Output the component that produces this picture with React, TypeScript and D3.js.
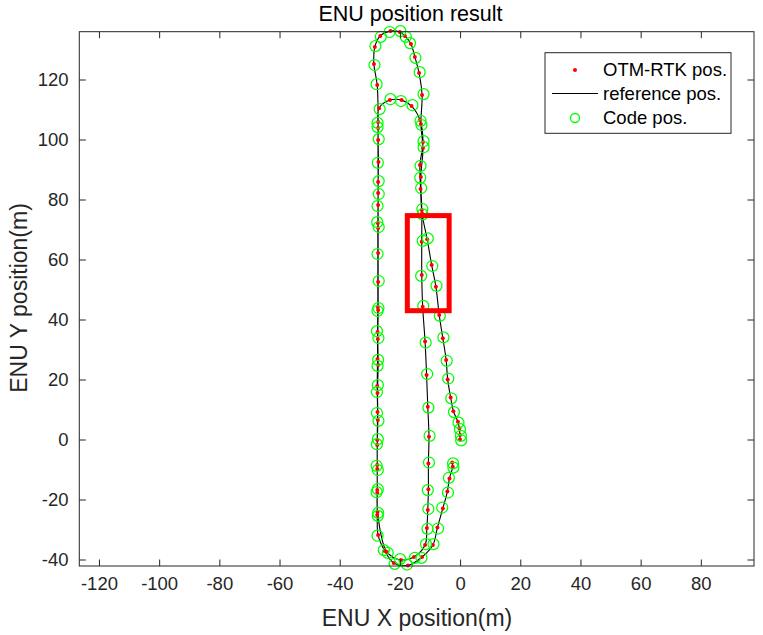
import React from 'react';
import * as d3 from 'd3';

const xTicks = [-120, -100, -80, -60, -40, -20, 0, 20, 40, 60, 80];
const yTicks = [-40, -20, 0, 20, 40, 60, 80, 100, 120];
const xDomain = [-126.7, 97.5];
const yDomain = [-42, 136.1];

const rtkX = [-2.8,-2.6,-3.7,-4.4,-5.9,-7.7,-9.2,-12.8,-17.5,-22.2,-25.2,-27.4,
-27.7,-27.7,-27.7,-27.7,-27.5,-27.6,-27.4,-27.5,-27.4,-27.4,-27.4,-27.4,-27.4,-27.4,-27.3,-27.4,-27.4,-27.7,-28.8,
-28.5,-26.7,-23.3,-20.2,-18.5,-16.5,-15.2,-13.8,
-12.8,-13.2,-12.5,-13.2,-12.9,
-12.9,-12.9,-12.6,-11.8,-11.3,-10.9,-10.5,-10.7,-10.7,-10.9,-11.2,-11.8,
-15.5,-19.8,-24.5,
-27.6,-27.7,-27.7,-27.7,-27.6,-27.7,-27.6,-27.6,-27.5,-27.5,-27.4,-27.4,-27.1,
-23.5,-19.6,-16.3,-13.5,
-12.5,-13.5,-13.3,-12.8,
-11.1,-9.6,-8.2,-7.1,-5.9,-4.8,-4.3,-3.3,-2.4,-0.9,-0.4,-0.2,-0.2];

const rtkY = [-7.5,-8.9,-12.8,-17.2,-22.8,-29.2,-35.0,-39.0,-41.8,-41.0,-37.0,-31.7,
-25.0,-17.7,-9.7,-1.7,6.7,15.7,25.0,33.7,43.3,52.7,62.3,70.7,78.3,86.0,92.7,100.0,106.0,118.3,125.3,
131.0,134.7,136.3,136.0,134.7,132.0,127.7,122.3,
115.0,105.3,97.3,87.7,76.7,
66.1,55.0,44.4,32.8,21.7,11.1,1.1,-7.8,-16.4,-23.3,-29.3,-35.0,
-39.0,-40.0,-37.3,
-24.0,-16.7,-8.3,0.0,9.3,18.0,27.0,36.0,44.3,72.3,82.3,104.0,110.6,
113.3,113.3,111.3,106.7,
99.3,91.7,83.7,75.5,
66.9,58.3,51.1,41.7,33.9,26.7,20.2,14.2,9.6,6.1,3.9,1.7,0.2];

const codeX = [-2.5,-2.4,-3.9,-4.2,-6.1,-7.5,-9.0,-13.0,-17.8,-21.9,-25.5,-27.6,
-27.5,-27.9,-27.5,-27.8,-27.3,-27.8,-27.6,-27.3,-27.6,-27.2,-27.6,-27.2,-27.6,-27.2,-27.5,-27.2,-27.6,-27.9,-28.6,
-28.3,-26.5,-23.6,-20.0,-18.2,-16.8,-15.0,-13.6,
-12.3,-13.0,-12.3,-13.4,-12.7,
-12.6,-13.1,-12.4,-11.6,-11.1,-10.7,-10.3,-10.5,-10.9,-10.7,-11.0,-11.5,
-15.2,-20.1,-24.2,
-27.4,-27.5,-27.9,-27.5,-27.8,-27.5,-27.4,-27.8,-27.3,-27.7,-27.2,-27.6,-26.9,
-23.3,-19.8,-16.0,-13.3,
-12.3,-13.3,-13.1,-12.6,
-10.9,-9.4,-8.0,-6.9,-5.7,-4.6,-4.1,-3.1,-2.2,-0.7,-0.2,0.1,0.2];

const codeY = [-7.8,-9.2,-12.6,-17.5,-22.5,-29.5,-34.7,-39.3,-41.5,-41.3,-36.7,-31.9,
-25.3,-17.4,-10.0,-1.4,6.4,16.0,24.7,34.0,43.0,53.0,62.0,71.0,78.0,86.3,92.4,100.3,105.7,118.6,125.0,
131.3,134.4,136.0,136.3,134.4,132.3,127.4,122.6,
115.3,105.0,97.6,87.4,77.0,
66.4,54.7,44.7,32.5,22.0,10.8,1.4,-7.5,-16.7,-23.0,-29.6,-34.7,
-39.3,-39.7,-37.6,
-24.3,-16.4,-8.6,0.3,9.0,18.3,26.7,36.3,44.0,72.6,82.0,104.3,110.3,
113.6,113.0,111.6,106.4,
99.6,91.4,84.0,75.2,
67.2,58.0,51.4,41.4,34.2,26.4,20.5,13.9,9.3,5.8,3.6,1.4,-0.1];

const legendLabels = ['OTM-RTK pos.', 'reference pos.', 'Code pos.'];
const highlightX = [-17.7, -3.8];
const highlightY = [43.1, 74.8];

const W = 763, H = 635;
const M = { left: 79.3, right: 754, top: 31.7, bottom: 566 };
const FONT = '"Liberation Sans", Arial, Helvetica, sans-serif';
const AX = '#262626';

export default function App() {
  const x = d3.scaleLinear().domain(xDomain).range([M.left, M.right]);
  const y = d3.scaleLinear().domain(yDomain).range([M.bottom, M.top]);
  const pts = rtkX.map((v, i) => [v, rtkY[i]] as [number, number]);
  const line = d3.line<[number, number]>().x(d => x(d[0])).y(d => y(d[1])).curve(d3.curveCatmullRom);
  const tl = 6.5;
  return (
    <svg width={W} height={H} style={{ position: 'absolute', left: 0, top: 0, background: '#fff' }} fontFamily={FONT}>
      <rect x={0} y={0} width={W} height={H} fill="#fff" />
      <path d={line(pts) || ''} fill="none" stroke="#000" strokeWidth={1.1} />
      {pts.map((p, i) => (
        <circle key={'r' + i} cx={x(p[0])} cy={y(p[1])} r={2} fill="#ff0000" />
      ))}
      {codeX.map((v, i) => (
        <circle key={'c' + i} cx={x(v)} cy={y(codeY[i])} r={5.5} fill="none" stroke="#00ff00" strokeWidth={1.25} />
      ))}
      <rect x={M.left} y={M.top} width={M.right - M.left} height={M.bottom - M.top} fill="none" stroke={AX} strokeWidth={1} />
      {xTicks.map(t => (
        <g key={'xt' + t}>
          <line x1={x(t)} x2={x(t)} y1={M.bottom} y2={M.bottom - tl} stroke={AX} />
          <line x1={x(t)} x2={x(t)} y1={M.top} y2={M.top + tl} stroke={AX} />
          <text x={x(t)} y={589.5} textAnchor="middle" fontSize={18.5} fill={AX}>{t}</text>
        </g>
      ))}
      {yTicks.map(t => (
        <g key={'yt' + t}>
          <line x1={M.left} x2={M.left + tl} y1={y(t)} y2={y(t)} stroke={AX} />
          <line x1={M.right} x2={M.right - tl} y1={y(t)} y2={y(t)} stroke={AX} />
          <text x={68.5} y={y(t)} dy="0.35em" textAnchor="end" fontSize={18.5} fill={AX}>{t}</text>
        </g>
      ))}
      <text x={410.5} y={21} textAnchor="middle" fontSize={21.5} fill="#000">ENU position result</text>
      <text x={417} y={626} textAnchor="middle" fontSize={23} fill={AX}>ENU X position(m)</text>
      <text transform={`translate(27,298) rotate(-90)`} textAnchor="middle" fontSize={23} fill={AX}>ENU Y position(m)</text>
      <rect x={545} y={52.7} width={186} height={80.6} fill="#fff" stroke={AX} strokeWidth={1} />
      <circle cx={575} cy={70} r={2} fill="#ff0000" />
      <line x1={552} x2={598} y1={93.5} y2={93.5} stroke="#000" strokeWidth={1.1} />
      <circle cx={575} cy={118} r={4.5} fill="none" stroke="#00ff00" strokeWidth={1.3} />
      {legendLabels.map((s, i) => (
        <text key={s} x={603} y={[70, 94, 118][i]} dy="0.35em" fontSize={18.5} fill="#000">{s}</text>
      ))}
      <rect x={x(highlightX[0])} y={y(highlightY[1])} width={x(highlightX[1]) - x(highlightX[0])}
        height={y(highlightY[0]) - y(highlightY[1])} fill="none" stroke="#ff0000" strokeWidth={5} />
    </svg>
  );
}
